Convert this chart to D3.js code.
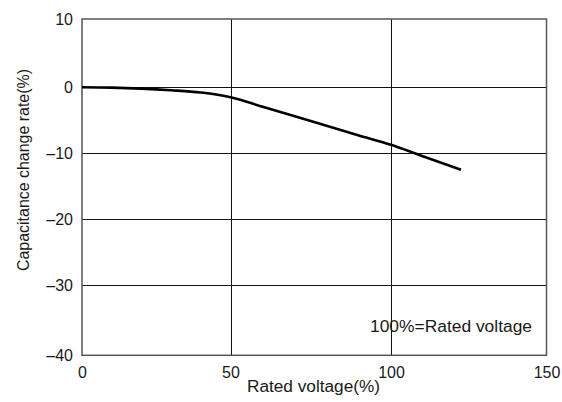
<!DOCTYPE html>
<html>
<head>
<meta charset="utf-8">
<script src="https://cdn.jsdelivr.net/npm/d3@7"></script>
<style>
  html, body { margin: 0; padding: 0; background: #fff; }
  svg { display: block; }
  text { font-family: "Liberation Sans", Arial, Helvetica, sans-serif; fill: #1a1a1a; }
</style>
</head>
<body>
<svg id="chart" width="562" height="402"></svg>
<script>
// Data
const voltage = [0, 10, 20, 30, 40, 50, 60, 75, 90, 100, 110, 122.5];
const capChange = [0, -0.05, -0.2, -0.45, -0.8, -1.5, -2.95, -5.1, -7.3, -8.7, -10.4, -12.5];
const xTicks = [0, 50, 100, 150];
const yTicks = [10, 0, -10, -20, -30, -40];
const xTitle = "Rated voltage(%)";
const yTitle = "Capacitance change rate(%)";
const note = "100%=Rated voltage";

const svg = d3.select("#chart");
const pL = 82, pR = 546.5, pT = 19, pB = 355.3;
const fs = 16;

// Piecewise scales to follow the reference's grid spacing
const x = d3.scaleLinear().domain([0, 50, 100, 150]).range([pL, 230.5, 391, pR]);
const y = d3.scaleLinear().domain([10, 0, -10, -20, -30, -40]).range([pT, 87.3, 153.3, 219.3, 285.3, pB]);

const fmt = d => (d < 0 ? "\u2013" + Math.abs(d) : String(d));

// Grid
const g = svg.append("g");
g.selectAll("line.gx").data(xTicks.slice(1, -1)).join("line")
  .attr("x1", d => Math.round(x(d)) + 0.5).attr("x2", d => Math.round(x(d)) + 0.5)
  .attr("y1", pT).attr("y2", pB)
  .attr("stroke", "#111").attr("stroke-width", 1);
g.selectAll("line.gy").data(yTicks.slice(1, -1)).join("line")
  .attr("y1", d => Math.round(y(d)) + 0.5).attr("y2", d => Math.round(y(d)) + 0.5)
  .attr("x1", pL).attr("x2", pR)
  .attr("stroke", "#111").attr("stroke-width", 1);

// Frame
svg.append("rect")
  .attr("x", pL).attr("y", pT)
  .attr("width", pR - pL).attr("height", pB - pT)
  .attr("fill", "none").attr("stroke", "#555").attr("stroke-width", 1.5);

// Axes labels via d3 axes (no tick lines)
const xAxis = svg.append("g").attr("transform", `translate(0,${pB})`)
  .call(d3.axisBottom(x).tickValues(xTicks).tickSize(0).tickPadding(11).tickFormat(fmt));
xAxis.select(".domain").remove();
xAxis.selectAll("text").attr("font-size", fs).attr("fill", "#1a1a1a")
  .style("font-family", '"Liberation Sans", Arial, sans-serif');

const yAxis = svg.append("g").attr("transform", `translate(${pL},0)`)
  .call(d3.axisLeft(y).tickValues(yTicks).tickSize(0).tickPadding(9).tickFormat(fmt));
yAxis.select(".domain").remove();
yAxis.selectAll("text").attr("font-size", fs).attr("fill", "#1a1a1a")
  .style("font-family", '"Liberation Sans", Arial, sans-serif');

// Curve
const line = d3.line().x(d => x(d)).y((d, i) => y(capChange[i])).curve(d3.curveMonotoneX);
svg.append("path")
  .attr("d", line(voltage))
  .attr("fill", "none").attr("stroke", "#000").attr("stroke-width", 2.6)
  .attr("stroke-linecap", "butt");

// Titles
svg.append("text").attr("x", 313.5).attr("y", 392).attr("text-anchor", "middle")
  .attr("font-size", fs).attr("textLength", 133).attr("lengthAdjust", "spacingAndGlyphs")
  .text(xTitle);
svg.append("text").attr("transform", `translate(28.5,170) rotate(-90)`)
  .attr("text-anchor", "middle").attr("font-size", fs)
  .attr("textLength", 202).attr("lengthAdjust", "spacingAndGlyphs").text(yTitle);

// Note
svg.append("text").attr("x", 370).attr("y", 331.5)
  .attr("font-size", fs).attr("textLength", 162).attr("lengthAdjust", "spacingAndGlyphs")
  .text(note);
</script>
</body>
</html>
